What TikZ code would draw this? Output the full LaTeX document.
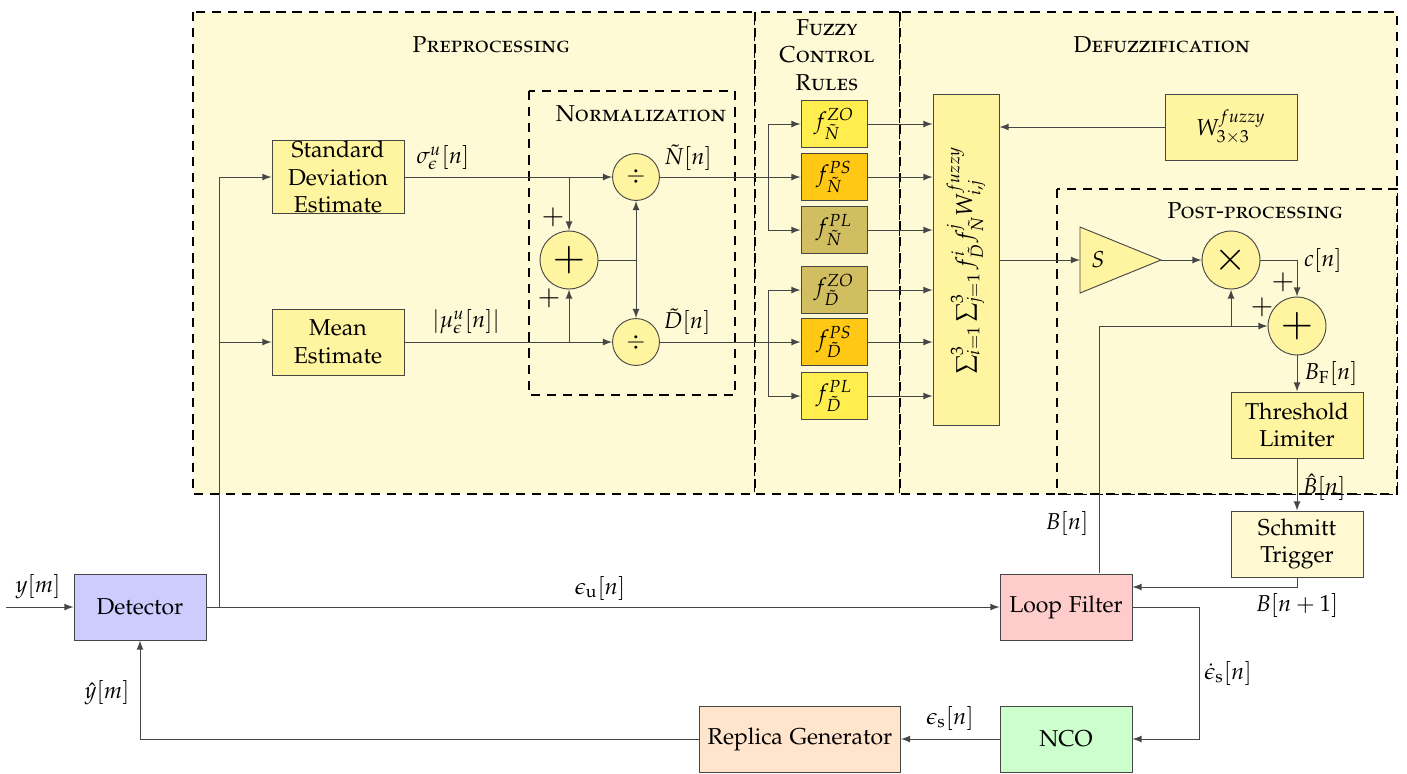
\documentclass[tikz,border=0pt]{standalone}
\usepackage[T1]{fontenc}
\usepackage[sc]{mathpazo}
\usetikzlibrary{arrows}
\definecolor{regionfill}{RGB}{255,250,214}
\definecolor{blockfill}{RGB}{255,244,160}
\definecolor{fzyellow}{RGB}{255,238,77}
\definecolor{fzorange}{RGB}{255,200,20}
\definecolor{fzolive}{RGB}{208,190,96}
\definecolor{schmittfill}{RGB}{255,250,210}
\definecolor{detfill}{RGB}{204,204,255}
\definecolor{lffill}{RGB}{255,204,204}
\definecolor{ncofill}{RGB}{204,255,204}
\definecolor{repfill}{RGB}{255,229,204}
\definecolor{edgegray}{RGB}{70,70,70}
\begin{document}
\begin{tikzpicture}[x=0.435pt,y=-0.435pt,>=latex,
    region/.style={draw,dashed,line width=0.8pt,dash pattern=on 4pt off 3pt,fill=regionfill},
    block/.style={draw=edgegray,fill=blockfill,align=center,inner sep=0pt,minimum width=57.4pt,minimum height=28.7pt},
    fzbox/.style={draw=edgegray,inner sep=0pt,minimum width=28.7pt,minimum height=20.4pt},
    divop/.style={draw=edgegray,fill=blockfill,circle,inner sep=0pt,minimum size=20.4pt},
    sumop/.style={draw=edgegray,fill=blockfill,circle,inner sep=0pt,minimum size=25.2pt,font=\LARGE},
    title/.style={align=center,inner sep=0pt}]
  \useasboundingbox (0,0) rectangle (1407,773);
  \draw[region] (193,12) rectangle (755,494);
  \draw[region] (755,12) rectangle (900,494);
  \draw[region] (900,12) rectangle (1397,494);
  \draw[region] (1057,189) rectangle (1397,494);
  \draw[region] (529,91) rectangle (735,395);
  \node[title] (tpre) at (491,45) {\textsc{Preprocessing}};
  \node[title] (tnorm) at (641,114) {\textsc{Normalization}};
  \node[title] (tfuzzy) at (827,55) {\textsc{Fuzzy}\\\textsc{Control}\\\textsc{Rules}};
  \node[title] (tdefuzz) at (1162,45) {\textsc{Defuzzification}};
  \node[title] (tpost) at (1255,211) {\textsc{Post-processing}};

  \node[block] (sdest) at (338,177) {Standard\\Deviation\\Estimate};
  \node[block] (meanest) at (338,342) {Mean\\Estimate};
  \node[divop] (divn) at (636,177) {$\div$};
  \node[divop] (divd) at (636,342) {$\div$};
  \node[sumop] (adder) at (569,260) {$+$};
  \node[fzbox,fill=fzyellow] (fnzo) at (834,124) {$f^{ZO}_{\tilde N}$};
  \node[fzbox,fill=fzorange] (fnps) at (834,177) {$f^{PS}_{\tilde N}$};
  \node[fzbox,fill=fzolive] (fnpl) at (834,230) {$f^{PL}_{\tilde N}$};
  \node[fzbox,fill=fzolive] (fdzo) at (834,290) {$f^{ZO}_{\tilde D}$};
  \node[fzbox,fill=fzorange] (fdps) at (834,342) {$f^{PS}_{\tilde D}$};
  \node[fzbox,fill=fzyellow] (fdpl) at (834,396) {$f^{PL}_{\tilde D}$};
  \node[block,minimum width=28.7pt,minimum height=143.6pt] (sumbox) at (966,260) {};
  \node[rotate=90] (sumtext) at (966,260) {$\sum_{i=1}^{3}\sum_{j=1}^{3} f^{i}_{\tilde D} f^{j}_{\tilde N} W^{fuzzy}_{i,j}$};
  \node[block] (wmat) at (1231,127) {$W^{fuzzy}_{3\times 3}$};
  \draw[draw=edgegray,fill=blockfill] (1080,227) -- (1161,260) -- (1080,293) -- cycle;
  \coordinate (gainin) at (1080,260);
  \coordinate (gainout) at (1161,260);
  \node (gaintext) at (1098,260) {$S$};
  \node[sumop] (mult) at (1231,260) {$\times$};
  \node[sumop] (adder2) at (1297,326) {$+$};
  \node[block] (thresh) at (1297,425) {Threshold\\Limiter};
  \node[block,fill=schmittfill] (schmitt) at (1297,544) {Schmitt\\Trigger};
  \node[block,fill=detfill] (det) at (140,607) {Detector};
  \node[block,fill=lffill] (loopf) at (1066,607) {Loop Filter};
  \node[block,fill=ncofill] (nco) at (1066,739) {NCO};
  \node[block,fill=repfill,minimum width=87.4pt] (replica) at (800,739) {Replica Generator};

  \coordinate (input) at (6,607);
  \coordinate (esplit) at (219,607);
  \coordinate (etop) at (219,177);
  \coordinate (nsplit) at (768,177);
  \coordinate (dsplit) at (768,342);
  \coordinate (bout) at (1099,573);
  \coordinate (lfturn) at (1199,607);

  \node (lsigma) at (443,158) {$\sigma^{u}_{\epsilon}[n]$};
  \node (lmu) at (466,322) {$|\mu^{u}_{\epsilon}[n]|$};
  \node (lnt) at (688,158) {$\tilde N[n]$};
  \node (ldt) at (687,322) {$\tilde D[n]$};
  \node[font=\large] (lp1) at (553,217) {$+$};
  \node[font=\large] (lp2) at (549,298) {$+$};
  \node (lc) at (1323,260) {$c[n]$};
  \node[font=\large] (lp3) at (1283,282) {$+$};
  \node[font=\large] (lp4) at (1262,307) {$+$};
  \node (lbf) at (1331,373) {$B_{\mathrm{F}}[n]$};
  \node (lbh) at (1324,487) {$\hat B[n]$};
  \node (lbn1) at (1297,605) {$B[n+1]$};
  \node (lbn) at (1067,523) {$B[n]$};
  \node (ly) at (38,587) {$y[m]$};
  \node (lyh) at (107,693) {$\hat y[m]$};
  \node (leu) at (600,588) {$\epsilon_{\mathrm{u}}[n]$};
  \node (lesd) at (1228,673) {$\dot\epsilon_{\mathrm{s}}[n]$};
  \node (les) at (950,718) {$\epsilon_{\mathrm{s}}[n]$};

  \begin{scope}[->,draw=edgegray]
    \draw (input) -- (det);
    \draw (det) -- (loopf);
    \draw[-] (esplit) -- (etop);
    \draw (etop) -- (sdest);
    \draw (esplit |- meanest) -- (meanest);
    \draw (sdest) -- (divn);
    \draw (meanest) -- (divd);
    \draw (sdest -| adder) -- (adder);
    \draw (meanest -| adder) -- (adder);
    \draw[-] (adder) -- (adder -| divn);
    \draw (adder -| divn) -- (divn);
    \draw (adder -| divn) -- (divd);
    \draw (divn) -- (fnps);
    \draw (nsplit) |- (fnzo);
    \draw (nsplit) |- (fnpl);
    \draw (divd) -- (fdps);
    \draw (dsplit) |- (fdzo);
    \draw (dsplit) |- (fdpl);
    \draw (fnzo) -- (fnzo -| sumbox.west);
    \draw (fnps) -- (fnps -| sumbox.west);
    \draw (fnpl) -- (fnpl -| sumbox.west);
    \draw (fdzo) -- (fdzo -| sumbox.west);
    \draw (fdps) -- (fdps -| sumbox.west);
    \draw (fdpl) -- (fdpl -| sumbox.west);
    \draw (wmat) -- (wmat -| sumbox.east);
    \draw (sumbox) -- (gainin);
    \draw (gainout) -- (mult);
    \draw (mult) -| (adder2);
    \draw (bout) |- (adder2);
    \draw (mult |- adder2) -- (mult);
    \draw (adder2) -- (thresh);
    \draw (thresh) -- (schmitt);
    \draw (schmitt.south) |- ([yshift=8.7pt]loopf.east);
    \draw (loopf) -- (lfturn) |- (nco);
    \draw (nco) -- (replica);
    \draw (replica) -| (det);
  \end{scope}
\end{tikzpicture}
\end{document}
